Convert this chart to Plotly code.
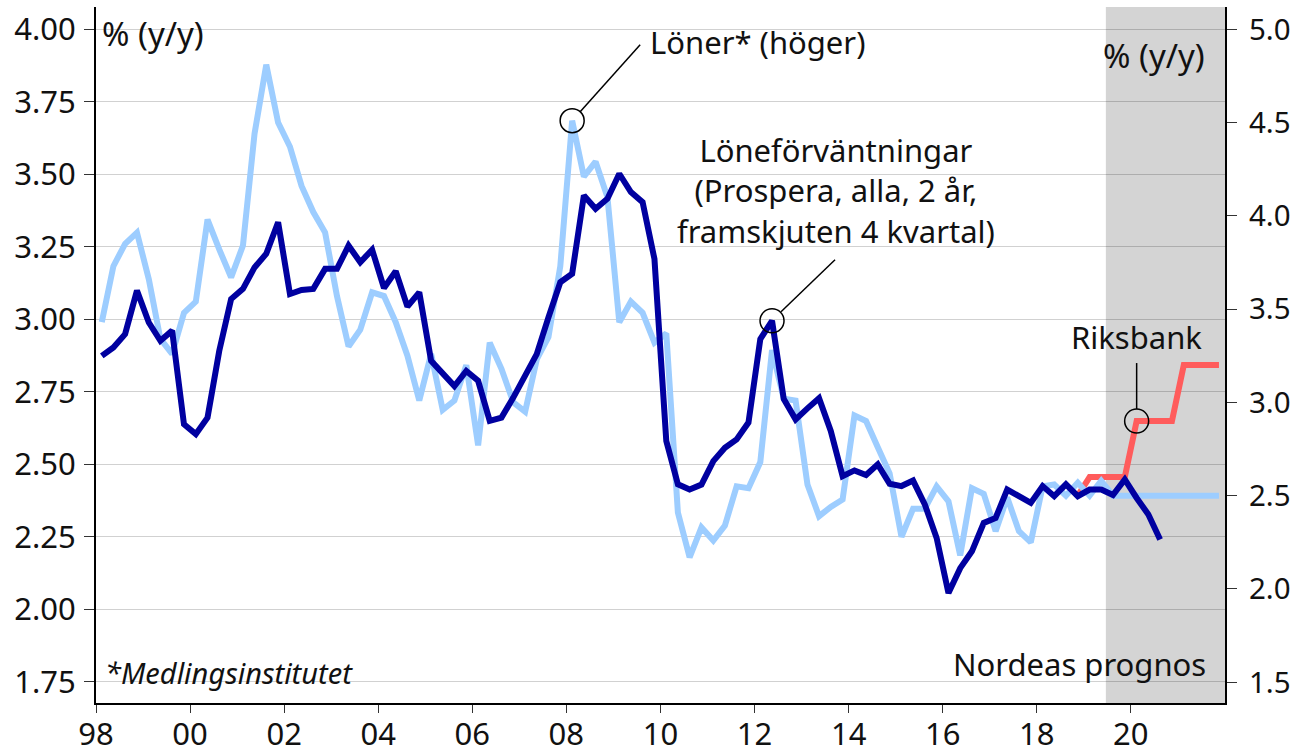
import pandas as pd
import plotly.graph_objects as go

# quarterly series, first quarter 1998Q1 (plotted mid-quarter)
start_quarter = "1998Q1"

# Löner* (höger), % y/y, right axis (incl. Nordea forecast flat at 2.5)
loner = [
    3.43, 3.73, 3.85, 3.91, 3.66, 3.34, 3.26, 3.48, 3.54, 3.98, 3.82, 3.67,
    3.84, 4.44, 4.81, 4.50, 4.37, 4.16, 4.02, 3.91, 3.57, 3.30, 3.39, 3.59,
    3.57, 3.43, 3.25, 3.01, 3.26, 2.96, 3.01, 3.20, 2.77, 3.32, 3.18, 3.00,
    2.95, 3.23, 3.35, 3.73, 4.51, 4.21, 4.29, 4.10, 3.43, 3.54, 3.48, 3.32,
    3.37, 2.41, 2.17, 2.33, 2.26, 2.34, 2.55, 2.54, 2.68, 3.28, 3.02, 3.01,
    2.56, 2.39, 2.44, 2.48, 2.93, 2.90, 2.76, 2.62, 2.28, 2.43, 2.43, 2.55,
    2.47, 2.18, 2.54, 2.51, 2.31, 2.49, 2.31, 2.25, 2.55, 2.56, 2.50, 2.57,
    2.50, 2.58, 2.50, 2.50, 2.50, 2.50, 2.50, 2.50, 2.50, 2.50, 2.50, 2.50,
]

# Löneförväntningar (Prospera, alla, 2 år, framskjuten 4 kvartal), left axis
forvantningar = [
    2.874, 2.903, 2.949, 3.099, 2.989, 2.926, 2.961, 2.638, 2.604, 2.661, 2.891, 3.070,
    3.105, 3.179, 3.226, 3.335, 3.087, 3.101, 3.105, 3.174, 3.174, 3.254, 3.197, 3.240,
    3.108, 3.166, 3.044, 3.093, 2.857, 2.817, 2.770, 2.822, 2.788, 2.650, 2.661, 2.730,
    2.811, 2.880, 3.007, 3.128, 3.157, 3.427, 3.381, 3.416, 3.502, 3.439, 3.404, 3.208,
    2.580, 2.431, 2.413, 2.430, 2.511, 2.557, 2.586, 2.644, 2.932, 2.995, 2.725, 2.655,
    2.693, 2.728, 2.615, 2.459, 2.479, 2.463, 2.500, 2.433, 2.425, 2.444, 2.362, 2.246,
    2.056, 2.142, 2.200, 2.298, 2.315, 2.413, 2.390, 2.367, 2.425, 2.390, 2.431, 2.390,
    2.413, 2.413, 2.394, 2.448, 2.384, 2.327, 2.241,
]

# Riksbank forecast, right axis, starting at quarter index 83
riksbank_start = 83
riksbank = [2.5, 2.6, 2.6, 2.6, 2.6, 2.9, 2.9, 2.9, 2.9, 3.2, 3.2, 3.2, 3.2]

year_ticks = ["1998", "2000", "2002", "2004", "2006", "2008", "2010",
              "2012", "2014", "2016", "2018", "2020"]
year_labels = ["98", "00", "02", "04", "06", "08", "10", "12", "14", "16", "18", "20"]

prognos_start = "2019-06-21"
x_end = "2022-01-01"

quarters = pd.period_range(start_quarter, periods=len(loner), freq="Q")
dates = quarters.to_timestamp(how="start") + pd.Timedelta(days=45)

LIGHT = "#9dcdff"
DARK = "#0000a0"
RED = "#ff5c5c"
FONT = "Noto Sans"
FS = 31

fig = go.Figure()
fig.add_trace(go.Scatter(x=dates[riksbank_start:riksbank_start + len(riksbank)], y=riksbank,
                         mode="lines", line=dict(color=RED, width=6), yaxis="y"))
fig.add_trace(go.Scatter(x=dates, y=loner, mode="lines",
                         line=dict(color=LIGHT, width=6), yaxis="y"))
fig.add_trace(go.Scatter(x=dates[:len(forvantningar)], y=forvantningar, mode="lines",
                         line=dict(color=DARK, width=6), yaxis="y2"))

fig.add_shape(type="rect", xref="x", yref="paper", x0=prognos_start, x1=x_end,
              y0=0, y1=1, fillcolor="#d4d4d4", line_width=0, layer="below")


def marker(xv, yref, yv, dx0, dy0, dx1, dy1):
    fig.add_shape(type="circle", xref="x", yref=yref, xsizemode="pixel", ysizemode="pixel",
                  xanchor=xv, yanchor=yv, x0=-12, x1=12, y0=-12, y1=12,
                  line=dict(color="black", width=1.5))
    fig.add_shape(type="line", xref="x", yref=yref, xsizemode="pixel", ysizemode="pixel",
                  xanchor=xv, yanchor=yv, x0=dx0, y0=dy0, x1=dx1, y1=dy1,
                  line=dict(color="black", width=1.5))


marker(dates[40], "y", loner[40], 8, 9, 68, 76)
marker(dates[57], "y2", forvantningar[57], 9, 9, 63, 61)
marker(dates[riksbank_start + 5], "y", riksbank[5], 0, 12, 0, 58)


def txt(size=FS):
    return dict(size=size, color="#111111", family=FONT)


annos = [
    dict(text="% (y/y)", x=0.0035, y=0.9626, xanchor="left", yanchor="middle", font=txt(33)),
    dict(text="% (y/y)", x=0.984, y=0.931, xanchor="right", yanchor="middle", font=txt(33)),
    dict(text="Löner* (höger)", x=0.5855, y=0.949, xanchor="center", yanchor="middle",
         font=txt()),
    dict(text="Löneförväntningar<br>(Prospera, alla, 2 år,<br>framskjuten 4 kvartal)",
         x=0.6554, y=0.737, xanchor="center", yanchor="middle", font=txt()),
    dict(text="Riksbank", x=0.9212, y=0.526, xanchor="center", yanchor="middle", font=txt()),
    dict(text="Nordeas prognos", x=0.985, y=0.056, xanchor="right", yanchor="middle",
         font=txt()),
    dict(text="<i>*Medlingsinstitutet</i>", x=0.006, y=0.044, xanchor="left",
         yanchor="middle", font=txt(29)),
]
for a in annos:
    fig.add_annotation(xref="paper", yref="paper", showarrow=False, **a)

axis_common = dict(ticks="outside", tickcolor="#333333", showline=True, linecolor="black",
                   linewidth=2, zeroline=False, automargin=False, ticklabeloverflow="allow")

fig.update_layout(
    width=1294, height=753,
    margin=dict(l=96, r=69, t=7, b=50),
    plot_bgcolor="white", paper_bgcolor="white",
    showlegend=False,
    font=dict(family=FONT),
    xaxis=dict(type="date", range=["1998-01-01", x_end], tickvals=year_ticks,
               ticktext=year_labels, ticklen=8, showgrid=False, ticklabelstandoff=-5,
               tickfont=txt(), **axis_common),
    yaxis=dict(side="right", range=[1.389, 5.119], tick0=1.5, dtick=0.5, tickformat=".1f",
               ticklen=10, showgrid=False, ticklabelstandoff=6, tickfont=txt(29.5),
               **axis_common),
    yaxis2=dict(side="left", overlaying="y", range=[1.677, 4.077], tick0=1.75, dtick=0.25,
                tickformat=".2f", ticklen=10, showgrid=True, gridcolor="rgba(0,0,0,0.18)",
                gridwidth=1.3, ticklabelstandoff=2, tickfont=txt(), **axis_common),
)

# drop the browser's default 8px body margin so the figure fills the window
fig.write_html("out.html", config={"displayModeBar": False},
               post_script="document.body.style.margin = '0';")
